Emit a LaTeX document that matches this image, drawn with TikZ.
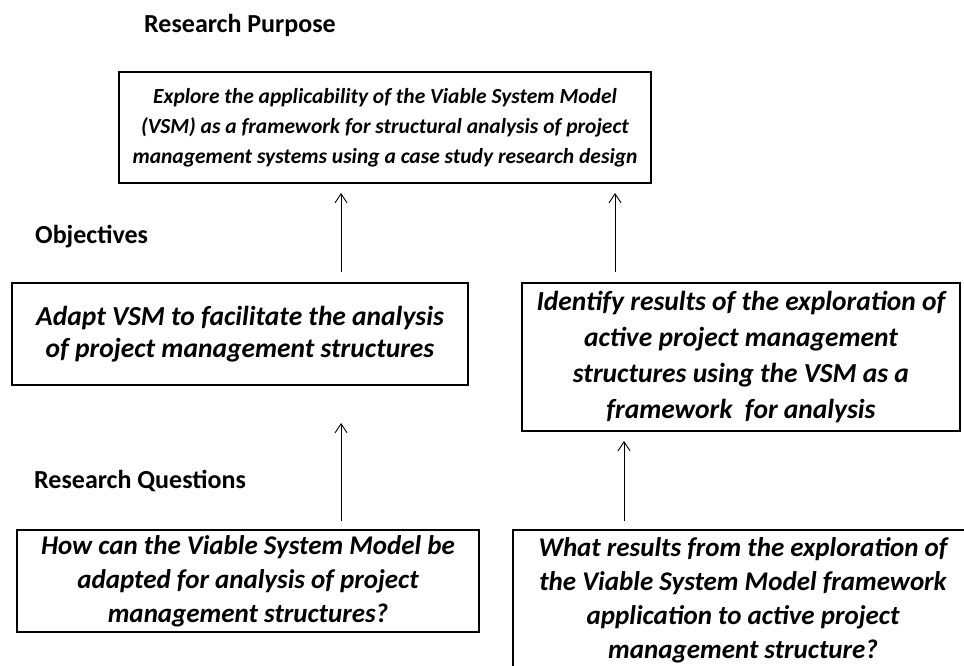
\documentclass[tikz,border=0pt]{standalone}
\usepackage{fontspec}
\setmainfont{Carlito}
\usetikzlibrary{positioning}
\usetikzlibrary{arrows.meta}
\usetikzlibrary{calc}
\tikzset{
	aim box/.style={
		draw=black, line width=2pt,
		align=center, inner sep=0pt
	},
	aim font/.style 2 args={
		font=\fontsize{#1}{#2}\selectfont\bfseries\itshape
	},
	aim title/.style={
		anchor=west, inner sep=0pt,
		font=\fontsize{26}{31}\selectfont\bfseries
	},
	aim arrow/.style={
		line width=0.9pt,
		-{Straight Barb[length=9pt,width=12pt]}
	}
}

\begin{document}
\begin{tikzpicture}[x=1pt,y=-1pt]
			\clip (0,0) rectangle (964,666);
			
			\node[aim title] (P-t) at (144,25) {Research Purpose};
			\node[aim title] (O-t) at (35,237) {Objectives};
			\node[aim title] (Q-t) at (34,481) {Research Questions};
			
			\node[aim box, aim font={21.5}{30}, minimum width=532pt, minimum height=111pt] (P) at (385,127.5) {
				Explore the applicability of the Viable System Model\\
				(VSM) as a framework for structural analysis of project\\
				management systems using a case study research design
			};
			
			\node[aim box, aim font={27.5}{32}, minimum width=456pt, minimum height=102pt] (O1) at (240,334) {
				Adapt VSM to facilitate the analysis\\
				of project management structures
			};
			\node[aim box, aim font={27.5}{36}, minimum width=438pt, minimum height=148pt] (O2) at (741,357) {
				Identify results of the exploration of\\
				active project management\\
				structures using the VSM as a\\
				framework \ for analysis
			};
			
			\node[aim box, aim font={27}{34}, minimum width=462pt, minimum height=102pt] (Q1) at (248,581) {
				How can the Viable System Model be\\
				adapted for analysis of project\\
				management structures?
			};
			\node[aim box, aim font={27}{34}, minimum width=460pt, minimum height=140pt] (Q2) at (743,600) {
				What results from the exploration of\\
				the Viable System Model framework\\
				application to active project\\
				management structure?
			};
			
			% arrows do not touch the boxes
			\draw[aim arrow, shorten <=10pt, shorten >=9pt] ([xshift=101pt]O1.north) -- ([xshift=101pt]O1.north |- P.south);
			\draw[aim arrow, shorten <=10pt, shorten >=9pt] ([xshift=-126pt]O2.north) -- ([xshift=-126pt]O2.north |- P.south);
			\draw[aim arrow, shorten <=8pt, shorten >=37pt] ([xshift=93pt]Q1.north) -- ([xshift=93pt]Q1.north |- O1.south);
			\draw[aim arrow, shorten <=8pt, shorten >=9pt] ([xshift=-119pt]Q2.north) -- ([xshift=-119pt]Q2.north |- O2.south);
		\end{tikzpicture}
\end{document}
